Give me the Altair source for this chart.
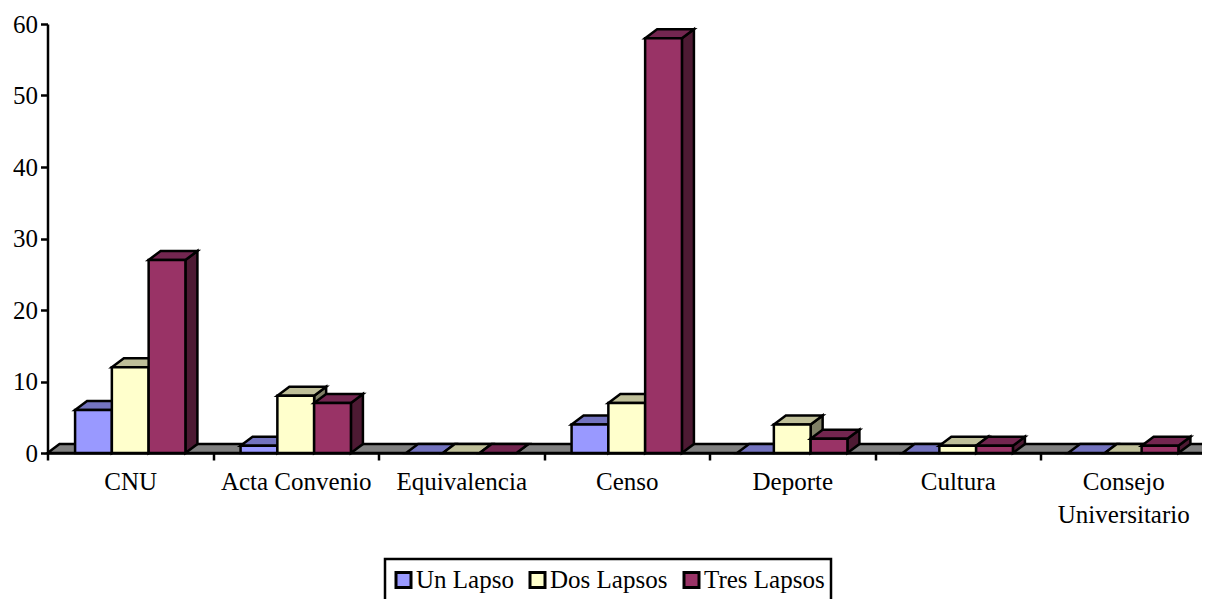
import altair as alt
import pandas as pd

categories = ["CNU", "Acta Convenio", "Equivalencia", "Censo", "Deporte", "Cultura", "Consejo Universitario"]
series_names = ["Un Lapso", "Dos Lapsos", "Tres Lapsos"]
un_lapso = [6, 1, 0, 4, 0, 0, 0]
dos_lapsos = [12, 8, 0, 7, 4, 1, 0]
tres_lapsos = [27, 7, 0, 58, 2, 1, 1]
front_colors = ["#9999FF", "#FFFFCC", "#993366"]
top_colors = ["#7373BF", "#BFBF99", "#732650"]
side_colors = ["#4D4D80", "#808066", "#4D1A33"]
floor_color = "#808080"

FONT = "Liberation Serif"
FS = 25
BAND_W = 1158.5
H = 429
DX = 12 / (BAND_W / 7)   # depth in category units
DY = 9 / (H / 60)        # depth in value units
BAR = 1 / 4.5
GAP = 0.75 * BAR

x_scale = alt.Scale(domain=[0, 7], nice=False, zero=False, range=[0, BAND_W])
y_scale = alt.Scale(domain=[0, 60], nice=False)
n = len(categories)
lab = "[" + ",".join(["['Consejo','Universitario']" if c.startswith("Consejo") else repr(c) for c in categories]) + ",''][datum.value]"

xe = alt.X("x:Q", scale=x_scale, title=None,
           axis=alt.Axis(values=list(range(n + 1)), labelExpr=lab, labelOffset=BAND_W / 14,
                         labelFont=FONT, labelFontSize=FS, labelColor="black", labelOverlap=False,
                         labelBound=False, labelFlush=False, labelAlign="center", labelBaseline="top",
                         labelPadding=9.5, labelLineHeight=33, grid=False, tickColor="black", tickSize=7,
                         tickWidth=2.5, domainColor="black", domainWidth=2.5))
ye = alt.Y("y:Q", scale=y_scale, title=None,
           axis=alt.Axis(values=list(range(0, 61, 10)), labelFont=FONT, labelFontSize=FS, labelColor="black",
                         labelPadding=3, grid=False, tickColor="black", tickSize=7, tickWidth=2.5,
                         domainColor="black", domainWidth=2.5))
STROKE = dict(stroke="black", strokeWidth=2.5, strokeJoin="miter")

floor = alt.Chart(pd.DataFrame({"x": [0, DX], "x2": [n, n + DX], "y": [0, DY]})).mark_area(
    orient="horizontal", fill=floor_color, clip=False, **STROKE
).encode(x=xe, x2="x2:Q", y=ye)

layers = [floor]
for s, vals in enumerate([un_lapso, dos_lapsos, tres_lapsos]):
    side, top, front = [], [], []
    for i, v in enumerate(vals):
        x0 = i + GAP + s * BAR
        x1 = x0 + BAR
        side += [{"id": i, "x": x1, "y": 0, "y2": v}, {"id": i, "x": x1 + DX, "y": DY, "y2": v + DY}]
        top += [{"id": i, "x": x0, "x2": x1, "y": v}, {"id": i, "x": x0 + DX, "x2": x1 + DX, "y": v + DY}]
        if v > 0:
            front.append({"x": x0, "x2": x1, "y": 0, "y2": v, "serie": series_names[s]})
    layers.append(alt.Chart(pd.DataFrame(side)).mark_area(orient="vertical", fill=side_colors[s], **STROKE)
                  .encode(x=xe, y=ye, y2="y2:Q", detail="id:N"))
    layers.append(alt.Chart(pd.DataFrame(top)).mark_area(orient="horizontal", fill=top_colors[s], **STROKE)
                  .encode(x=xe, x2="x2:Q", y=ye, detail="id:N"))
    layers.append(alt.Chart(pd.DataFrame(front)).mark_rect(**STROKE).encode(
        x=xe, x2="x2:Q", y=ye, y2="y2:Q",
        color=alt.Color("serie:N", scale=alt.Scale(domain=series_names, range=front_colors),
                        sort=series_names,
                        legend=alt.Legend(title=None, orient="none", legendX=337.5, legendY=535, direction="horizontal",
                                          columns=3, columnPadding=11, symbolType="square", symbolSize=225,
                                          symbolOffset=0, clipHeight=30,
                                          symbolStrokeColor="black", symbolStrokeWidth=3, symbolOpacity=1,
                                          labelFont=FONT, labelFontSize=FS, labelColor="black", labelOffset=0,
                                          padding=6, strokeColor="black", fillColor="white",
                                          labelLimit=300))))

chart = alt.layer(*layers).properties(
    width=BAND_W - 4, height=H,
    autosize=alt.AutoSizeParams(type="none", contains="content"),
    padding={"left": 39.5, "top": 16, "right": 0, "bottom": 146}
).configure_view(stroke=None).configure_legend(strokeWidth=2.5)

chart.save("out.html", embed_options={"renderer": "svg", "actions": False})
